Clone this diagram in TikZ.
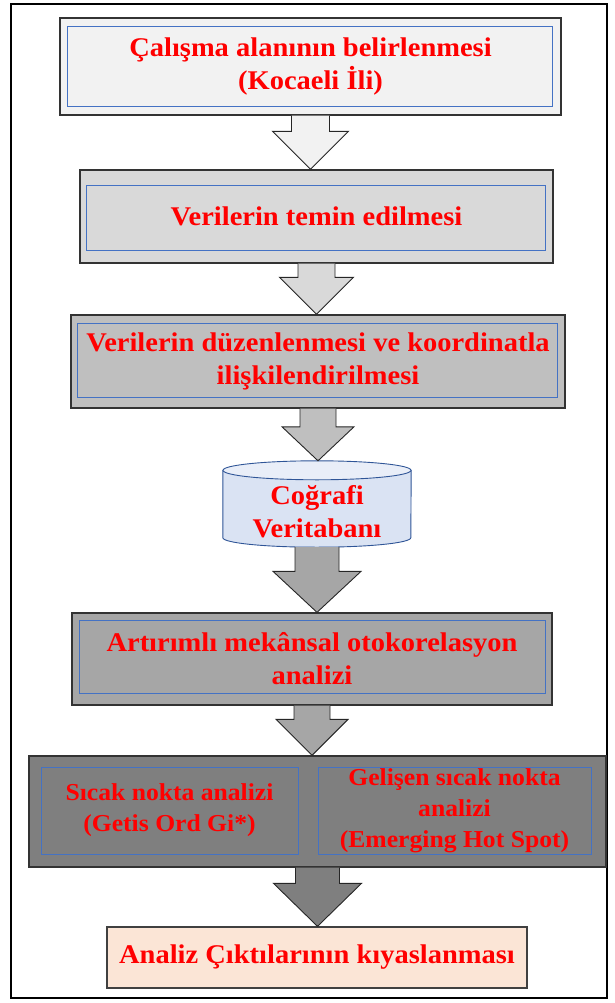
\documentclass[tikz,border=0pt]{standalone}
\usepackage{fontspec}
\setmainfont{Liberation Serif}[FakeStretch=1.055]
\usetikzlibrary{positioning,calc,backgrounds}
\definecolor{fillA}{HTML}{F2F2F2}
\definecolor{fillB}{HTML}{D9D9D9}
\definecolor{fillC}{HTML}{BFBFBF}
\definecolor{fillD}{HTML}{A6A6A6}
\definecolor{fillE}{HTML}{7F7F7F}
\definecolor{fillOut}{HTML}{FBE5D6}
\definecolor{edgeblue}{HTML}{4472C4}
\definecolor{dbblue}{HTML}{DAE3F3}
\definecolor{dbedge}{HTML}{2F5597}
% block arrow: from, to, fill, head half width, head length
\newcommand{\flowarrow}[5]{%
  \filldraw[arrowline, fill=#3] let \p1=(#1.south), \p2=(#2.north), \n1={#4/2} in
    (\x1-\n1*1pt,\y1) -- (\x1-\n1*1pt,\y2+#5pt) -- (\x1-#4pt,\y2+#5pt) -- (\x1,\y2)
    -- (\x1+#4pt,\y2+#5pt) -- (\x1+\n1*1pt,\y2+#5pt) -- (\x1+\n1*1pt,\y1);
}
\begin{document}
\begin{tikzpicture}[x=1pt,y=-1pt,
  stage/.style={draw=black!80, line width=1.3pt, align=center, inner sep=0pt,
    text=red, font=\fontsize{27}{33}\selectfont\bfseries},
  substage/.style={draw=edgeblue, line width=0.9pt, align=center, inner sep=0pt,
    text=red, font=\fontsize{24.3}{31}\selectfont\bfseries},
  innerline/.style={draw=edgeblue, line width=0.9pt},
  arrowline/.style={draw=black!85, line width=0.9pt, line join=miter},
  dbshape/.style={draw=dbedge, line width=0.9pt, fill=dbblue}]
  \useasboundingbox (0,0) rectangle (614,1003);
  \draw[line width=1.5pt] (11,4) rectangle (607,998);

  % stages
  \node[stage, fill=fillA, minimum width=501pt, minimum height=97pt] (area) at (310.5,66.5)
    {Çalışma alanının belirlenmesi\\(Kocaeli İli)};
  \node[stage, fill=fillB, minimum width=473pt, minimum height=93pt] (data) at (316.5,216.5)
    {Verilerin temin edilmesi};
  \node[stage, fill=fillC, minimum width=494pt, minimum height=93pt] (prep) at (318,361.5)
    {Verilerin düzenlenmesi ve koordinatla\\ilişkilendirilmesi};
  \node[minimum width=188pt, minimum height=86pt, inner sep=0pt] (db) at (317,504) {};
  \node[stage, fill=fillD, minimum width=480pt, minimum height=92pt] (auto) at (312,659)
    {Artırımlı mekânsal otokorelasyon\\analizi};
  \node[stage, fill=fillE, minimum width=577pt, minimum height=111pt] (hot) at (317.5,811.5) {};
  \node[substage, minimum width=257pt, minimum height=87pt] (gistar) at (169.5,810.5)
    {Sıcak nokta analizi\\(Getis Ord Gi*)};
  \node[substage, minimum width=273pt, minimum height=87pt] (emerge) at (454.5,810.5)
    {Gelişen sıcak nokta\\analizi\\(Emerging Hot Spot)};
  \node[stage, draw=black!75, fill=fillOut, minimum width=420pt, minimum height=61pt] (result) at (317,957.5)
    {Analiz Çıktılarının kıyaslanması};

  % inner frames
  \draw[innerline] ($(area.north west)+(8,9)$) rectangle ($(area.south east)+(-9,-9)$);
  \draw[innerline] ($(data.north west)+(7,16)$) rectangle ($(data.south east)+(-8,-13)$);
  \draw[innerline] ($(prep.north west)+(7,9)$) rectangle ($(prep.south east)+(-8,-11)$);
  \draw[innerline] ($(auto.north west)+(8,8)$) rectangle ($(auto.south east)+(-7,-12)$);

  % database
  \begin{scope}[on background layer]
    \filldraw[dbshape] ($(db.north west)+(0,9.5)$) -- ($(db.south west)+(0,-9.5)$)
      arc[start angle=180, end angle=360, x radius=94pt, y radius=9.5pt]
      -- ($(db.north east)+(0,9.5)$) -- cycle;
    \filldraw[dbshape, fill=dbblue!60!white] ($(db.north)+(0,9.5)$) ellipse [x radius=94pt, y radius=9.5pt];
  \end{scope}
  \node[align=center, inner sep=0pt, text=red, font=\fontsize{27}{33}\selectfont\bfseries]
    (dblabel) at ($(db.center)+(0,8)$) {Coğrafi\\Veritabanı};

  % arrows
  \flowarrow{area}{data}{fillA}{38}{38}
  \flowarrow{data}{prep}{fillB}{37}{37}
  \flowarrow{prep}{db}{fillC}{36}{34}
  \flowarrow{db}{auto}{fillD}{44}{41}
  \flowarrow{auto}{hot}{fillD}{36}{36}
  \flowarrow{hot}{result}{fillE}{44}{43}
\end{tikzpicture}
\end{document}
